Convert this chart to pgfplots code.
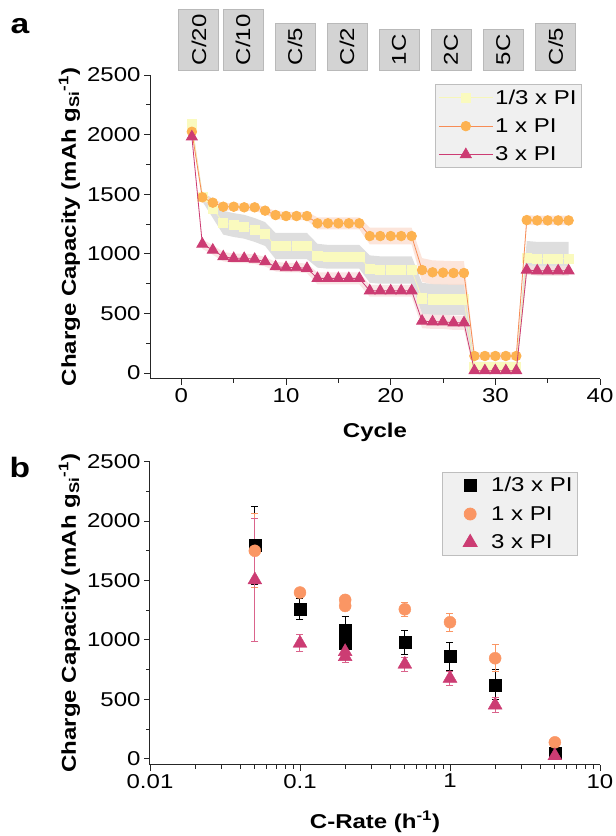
\documentclass[border=0pt]{standalone}
\usepackage{fontspec}
\setmainfont[FakeStretch=1.2]{Liberation Sans}
\usepackage{pgfplots}
\usepackage{pgfplotstable}
\pgfplotsset{compat=1.18}
\usepgfplotslibrary{fillbetween}

\definecolor{ylfill}{RGB}{250,250,190}
\definecolor{ylline}{RGB}{246,246,185}
\definecolor{orM}{RGB}{253,178,80}
\definecolor{orL}{RGB}{247,140,85}
\definecolor{mg}{RGB}{204,60,115}
\definecolor{mgE}{RGB}{218,100,140}
\definecolor{orB}{RGB}{250,150,100}
\definecolor{bandgray}{RGB}{222,222,222}
\definecolor{bandor}{RGB}{251,222,210}
\definecolor{bandmg}{RGB}{248,222,222}
\definecolor{boxfill}{RGB}{211,211,211}
\definecolor{boxdraw}{RGB}{185,185,185}
\definecolor{legfill}{RGB}{240,240,240}
\definecolor{legdraw}{RGB}{190,190,190}

\newcommand\fs{\fontsize{20}{24}\selectfont}

\pgfplotstableread{
c y1 e1 y2 e2 y3 e3
1 2086 20 2024 20 1982 20
2 1480 40 1474 30 1082 40
3 1381 80 1429 30 1032 40
4 1261 100 1395 30 976 40
5 1241 100 1395 30 962 40
6 1227 100 1390 30 962 40
7 1200 100 1390 30 955 40
8 1166 100 1362 30 934 40
9 1065 110 1325 35 892 40
10 1065 110 1317 35 885 40
11 1065 110 1317 35 885 40
12 1065 110 1317 35 878 40
13 984 100 1256 50 794 50
14 975 100 1256 50 794 50
15 975 100 1256 50 794 50
16 975 100 1256 50 794 50
17 975 100 1256 50 794 50
18 872 115 1149 70 690 50
19 864 115 1149 70 690 50
20 864 115 1149 70 690 50
21 864 115 1149 70 690 50
22 864 115 1149 70 690 50
23 626 130 864 100 436 60
24 618 130 845 100 430 60
25 618 130 842 100 430 60
26 618 130 839 100 422 60
27 618 130 839 100 422 60
28 53 40 143 30 20 20
29 53 40 143 30 20 20
30 53 40 143 30 20 20
31 53 40 143 30 20 20
32 53 40 143 30 20 20
33 968 140 1283 40 864 40
34 960 140 1280 40 858 40
35 960 140 1280 40 858 40
36 960 140 1280 40 858 40
37 960 140 1280 40 858 40
}\topdata

\pgfplotstableread{
r y e
0.05 1795 330
0.1 1261 90
0.2 1084 110
0.2 972 100
0.5 977 102
1 859 117
2 621 126
5 45 20
}\botA
\pgfplotstableread{
r y e
0.05 1750 310
0.1 1399 30
0.2 1337 30
0.2 1286 30
0.5 1258 60
1 1149 77
2 846 112
5 138 20
}\botB
\pgfplotstableread{
r y e
0.05 1505 520
0.1 972 70
0.2 901 50
0.2 859 50
0.5 795 60
1 677 60
2 452 60
5 25 10
}\botC

\pgfplotsset{
  common/.style={
    scale only axis, width=450pt,
    axis x line*=bottom, axis y line*=left,
    tick align=outside, major tick length=6pt, minor tick length=4pt,
    axis line style={line width=1pt, black!85},
    every tick/.style={black!85, line width=0.9pt},
    tick label style={font=\fs},
    label style={font=\fs\bfseries},
    /pgf/number format/assume math mode=true,
    /pgf/number format/1000 sep={},
    ymin=-50, ymax=2500, ytick={0,500,...,2500}, minor y tick num=1,
    ylabel={Charge Capacity (mAh g\textsubscript{Si}\textsuperscript{-1})},
    legend style={font=\fs, fill=legfill, draw=legdraw, line width=0.8pt, row sep=9pt, inner sep=3pt},
    legend cell align=left,
  },
}
\tikzset{
  rbox/.style={draw=boxdraw, fill=boxfill, line width=0.8pt, rotate=90, anchor=west,
    minimum height=40pt, inner xsep=5pt, font=\fs},
}

\begin{document}
\begin{tikzpicture}

\node[font=\fontsize{28}{30}\selectfont\bfseries] at (20pt,810pt) {a};
\node[font=\fontsize{28}{30}\selectfont\bfseries] at (20pt,369pt) {b};

\begin{axis}[common, at={(150pt,457pt)}, anchor=south west, height=304pt,
  clip=true, clip mode=individual,
  xmin=-3, xmax=40, xtick={0,10,...,40}, minor x tick num=1,
  xlabel={Cycle}, xlabel style={yshift=-13pt},
  legend style={at={(0.96,0.97)}, anchor=north east},
  legend image code/.code={\draw[mark repeat=2,mark phase=2] plot coordinates {(0pt,0pt) (27pt,0pt) (54pt,0pt)};},
]
\addplot[draw=none, name path=u1, forget plot] table[x=c, y expr=\thisrow{y1}+\thisrow{e1}]{\topdata};
\addplot[draw=none, name path=l1, forget plot] table[x=c, y expr=\thisrow{y1}-\thisrow{e1}]{\topdata};
\addplot[bandgray, forget plot] fill between[of=u1 and l1];
\addplot[draw=none, name path=u2, forget plot] table[x=c, y expr=\thisrow{y2}+\thisrow{e2}]{\topdata};
\addplot[draw=none, name path=l2, forget plot] table[x=c, y expr=\thisrow{y2}-\thisrow{e2}]{\topdata};
\addplot[bandor, fill opacity=0.8, forget plot] fill between[of=u2 and l2];
\addplot[draw=none, name path=u3, forget plot] table[x=c, y expr=\thisrow{y3}+\thisrow{e3}]{\topdata};
\addplot[draw=none, name path=l3, forget plot] table[x=c, y expr=\thisrow{y3}-\thisrow{e3}]{\topdata};
\addplot[bandmg, fill opacity=0.8, forget plot] fill between[of=u3 and l3];

\addplot[color=ylline, line width=0.8pt, mark=square*, mark size=4.6pt, mark options={fill=ylfill, draw=ylfill}] table[x=c,y=y1]{\topdata};
\addlegendentry{1/3 x PI}
\addplot[color=orL, line width=0.8pt, mark=*, mark size=4.8pt, mark options={fill=orM, draw=orM}] table[x=c,y=y2]{\topdata};
\addlegendentry{1 x PI}
\addplot[color=mg, line width=0.8pt, mark=triangle*, mark size=6.3pt, mark options={fill=mg, draw=mg}] table[x=c,y=y3]{\topdata};
\addlegendentry{3 x PI}

\node[rbox] at (axis cs:1.67,2536) {C/20};
\node[rbox] at (axis cs:5.89,2536) {C/10};
\node[rbox] at (axis cs:10.86,2536) {C/5};
\node[rbox] at (axis cs:15.83,2536) {C/2};
\node[rbox] at (axis cs:20.8,2536) {1C};
\node[rbox] at (axis cs:25.77,2536) {2C};
\node[rbox] at (axis cs:30.75,2536) {5C};
\node[rbox] at (axis cs:35.78,2536) {C/5};
\end{axis}

\begin{axis}[common, at={(150pt,71.3pt)}, anchor=south west, height=303pt,
  clip=false,
  xmode=log, xmin=0.01, xmax=10, xtick={0.01,0.1,1,10}, xticklabels={0.01,0.1,1,10},
  xlabel={C-Rate (h\textsuperscript{-1})}, xlabel style={yshift=-16pt},
  legend style={at={(0.951,0.966)}, anchor=north east},
  legend image code/.code={\path[draw=none] (0pt,0pt) (44pt,0pt); \draw plot coordinates {(25pt,0pt)};},
]
\addplot[only marks, mark=square*, mark size=6pt, mark options={fill=black, draw=black},
  error bars/.cd, y dir=both, y explicit,
  error bar style={black, line width=1pt},
  error mark options={rotate=90, mark size=3.5pt, black, line width=1pt}]
  table[x=r, y=y, y error=e]{\botA};
\addlegendentry{1/3 x PI}
\addplot[only marks, mark=*, mark size=6pt, mark options={fill=orB, draw=orB},
  error bars/.cd, y dir=both, y explicit,
  error bar style={orB, line width=1pt},
  error mark options={rotate=90, mark size=3.5pt, orB, line width=1pt}]
  table[x=r, y=y, y error=e]{\botB};
\addlegendentry{1 x PI}
\addplot[only marks, mark=triangle*, mark size=8pt, mark options={fill=mg, draw=mg},
  error bars/.cd, y dir=both, y explicit,
  error bar style={mgE, line width=1pt},
  error mark options={rotate=90, mark size=3.5pt, mgE, line width=1pt}]
  table[x=r, y=y, y error=e]{\botC};
\addlegendentry{3 x PI}
\end{axis}
\pgfresetboundingbox
\path[use as bounding box] (0pt,0pt) rectangle (616pt,836pt);
\end{tikzpicture}
\end{document}
